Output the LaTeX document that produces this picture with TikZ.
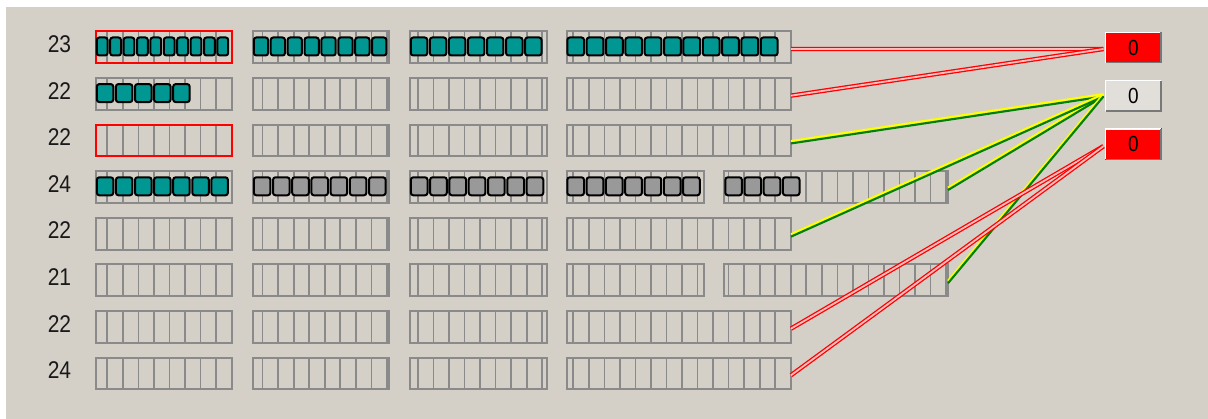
\documentclass[tikz,border=0pt]{standalone}
\usepackage{fontspec}
\setmainfont{Liberation Sans}
\definecolor{bg}{RGB}{212,208,200}
\definecolor{gridgray}{RGB}{138,138,138}
\definecolor{tealsq}{RGB}{0,150,145}
\definecolor{graysq}{RGB}{153,153,153}
\definecolor{indgray}{RGB}{226,223,218}
\definecolor{bevdark}{RGB}{120,120,120}
\definecolor{wiregap}{RGB}{255,190,190}
\definecolor{wiregreen}{RGB}{0,128,0}
\definecolor{wireyellow}{RGB}{255,255,0}
\tikzset{
  gridline/.style={draw=gridgray, line width=1.7pt},
  slotframe/.style={line width=2pt, minimum height=31.7pt, inner sep=0pt, outer sep=0pt, rectangle},
  sq/.style={draw=black, line width=2pt, rounded corners=2.5pt},
  lbl/.style={inner sep=0pt, font=\fontsize{21}{24}\selectfont, text=black!90},
  ind/.style={minimum width=56.7pt, minimum height=31.7pt, inner sep=0pt, outer sep=0pt, font=\fontsize{19}{24}\selectfont, text=black},
  redwire/.style={draw=red, line width=1.3pt, double=wiregap, double distance=1.8pt},
  ylw/.style={draw=wireyellow, line width=2.1pt},
  grn/.style={draw=wiregreen, line width=2.1pt},
}
\newcommand\tall[1]{\scalebox{1}[1.15]{#1}}
\newcommand\slotbox[5][gridgray]{%
  \begin{scope}
    \clip (#3,#5) rectangle (#4,#5+31.7);
    \foreach \k in {0,...,55}{\draw[gridline] ({107.3+15.533*\k},#5) -- ++(0,31.7);}
  \end{scope}
  \pgfmathsetmacro\slw{#4-#3}%
  \node[slotframe, draw=#1, minimum width=\slw pt, anchor=north west] (#2) at (#3,#5) {};
}
\newcommand\sqrow[5]{%
  \foreach \i in {1,...,#2}{\draw[sq, fill=#5] ({#1+(\i-1)*#3+0.8},#4+6) rectangle ++({#3-2.6},18);}
}
\newcommand\ygwire[2]{%
  \draw[ylw] ([yshift=1.2pt]#1) -- ([yshift=1.2pt]#2);
  \draw[grn] ([yshift=-1.2pt]#1) -- ([yshift=-1.2pt]#2);
}
\begin{document}
\begin{tikzpicture}[x=1pt,y=-1pt]
\useasboundingbox (0,0) rectangle (1208,419);
\fill[bg] (0,0) rectangle (1208,419);
\fill[white] (0,0) rectangle (1208,7);
\fill[white] (0,0) rectangle (6,419);

% row labels
\node[lbl] (l1) at (59.5,44.0) {\tall{23}};
\node[lbl] (l2) at (59.5,90.6) {\tall{22}};
\node[lbl] (l3) at (59.5,137.2) {\tall{22}};
\node[lbl] (l4) at (59.5,183.8) {\tall{24}};
\node[lbl] (l5) at (59.5,230.4) {\tall{22}};
\node[lbl] (l6) at (59.5,277.0) {\tall{21}};
\node[lbl] (l7) at (59.5,323.6) {\tall{22}};
\node[lbl] (l8) at (59.5,370.2) {\tall{24}};

% row 1
\slotbox[red]{r1a}{95.7}{232.3}{31.5}
\slotbox{r1b}{252.7}{389.3}{31.5}
\slotbox{r1c}{410}{546.7}{31.5}
\slotbox{r1d}{566.7}{791}{31.5}
% row 2
\slotbox{r2a}{95.7}{232.3}{78.1}
\slotbox{r2b}{252.7}{389.3}{78.1}
\slotbox{r2c}{410}{546.7}{78.1}
\slotbox{r2d}{566.7}{791}{78.1}
% row 3
\slotbox[red]{r3a}{95.7}{232.3}{124.7}
\slotbox{r3b}{252.7}{389.3}{124.7}
\slotbox{r3c}{410}{546.7}{124.7}
\slotbox{r3d}{566.7}{791}{124.7}
% row 4
\slotbox{r4a}{95.7}{232.3}{171.3}
\slotbox{r4b}{252.7}{389.3}{171.3}
\slotbox{r4c}{410}{546.7}{171.3}
\slotbox{r4d}{566.7}{704}{171.3}
\slotbox{r4e}{724}{948}{171.3}
% row 5
\slotbox{r5a}{95.7}{232.3}{217.9}
\slotbox{r5b}{252.7}{389.3}{217.9}
\slotbox{r5c}{410}{546.7}{217.9}
\slotbox{r5d}{566.7}{791}{217.9}
% row 6
\slotbox{r6a}{95.7}{232.3}{264.5}
\slotbox{r6b}{252.7}{389.3}{264.5}
\slotbox{r6c}{410}{546.7}{264.5}
\slotbox{r6d}{566.7}{704}{264.5}
\slotbox{r6e}{724}{948}{264.5}
% row 7
\slotbox{r7a}{95.7}{232.3}{311.1}
\slotbox{r7b}{252.7}{389.3}{311.1}
\slotbox{r7c}{410}{546.7}{311.1}
\slotbox{r7d}{566.7}{791}{311.1}
% row 8
\slotbox{r8a}{95.7}{232.3}{357.7}
\slotbox{r8b}{252.7}{389.3}{357.7}
\slotbox{r8c}{410}{546.7}{357.7}
\slotbox{r8d}{566.7}{791}{357.7}

% filled squares
\sqrow{96}{10}{13.4}{31.5}{tealsq}
\sqrow{253}{8}{16.9}{31.5}{tealsq}
\sqrow{410}{7}{19.05}{31.5}{tealsq}
\sqrow{566.5}{11}{19.35}{31.5}{tealsq}
\sqrow{96}{5}{19.1}{78.1}{tealsq}
\sqrow{96}{7}{19.1}{171.3}{tealsq}
\sqrow{253}{7}{19.2}{171.3}{graysq}
\sqrow{410}{7}{19.3}{171.3}{graysq}
\sqrow{566.5}{7}{19.3}{171.3}{graysq}
\sqrow{724.5}{4}{19.2}{171.3}{graysq}

% indicators
\node[ind, fill=red] (i1) at (1133.3,47.5) {\tall{0}};
\node[ind, fill=indgray] (i2) at (1133.3,95.8) {\tall{0}};
\node[ind, fill=red] (i3) at (1133.3,144.2) {\tall{0}};
\foreach \n in {i1,i2,i3}{
  \draw[white, line width=1.5pt] ([shift={(0.75pt,0.75pt)}]\n.south west) -- ([shift={(0.75pt,-0.75pt)}]\n.north west) -- ([shift={(-0.75pt,-0.75pt)}]\n.north east);
  \draw[bevdark, line width=1.5pt] ([shift={(-0.75pt,-0.75pt)}]\n.north east) -- ([shift={(-0.75pt,0.75pt)}]\n.south east) -- ([shift={(0.75pt,0.75pt)}]\n.south west);
}

% wire end points
\coordinate (s1) at ([yshift=-1.7pt]r1d.east);
\coordinate (s2) at ([yshift=-1.7pt]r2d.east);
\coordinate (s3) at ([yshift=-1.7pt]r3d.east);
\coordinate (s4) at ([yshift=-1.7pt]r4e.east);
\coordinate (s5) at ([yshift=-1.7pt]r5d.east);
\coordinate (s6) at ([yshift=-1.7pt]r6e.east);
\coordinate (s7) at ([yshift=-1.7pt]r7d.east);
\coordinate (s8) at ([yshift=-1.7pt]r8d.east);
\coordinate (t1) at ([xshift=-1.5pt,yshift=-1.5pt]i1.west);
\coordinate (t2) at ([xshift=-1.5pt,yshift=0.5pt]i2.west);
\coordinate (t3) at ([xshift=-1.5pt,yshift=-2pt]i3.west);

% wires
\ygwire{s3}{t2}
\ygwire{s4}{t2}
\ygwire{s5}{t2}
\ygwire{s6}{t2}
\draw[redwire] (s1) -- (t1);
\draw[redwire] (s2) -- (t1);
\draw[redwire] (s7) -- (t3);
\draw[redwire] (s8) -- (t3);
\end{tikzpicture}
\end{document}
